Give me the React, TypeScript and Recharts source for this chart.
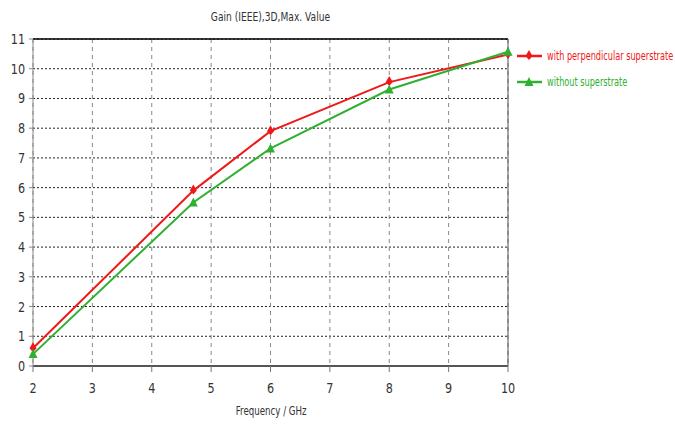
import React from "react";
import {
  LineChart,
  Line,
  XAxis,
  YAxis,
  CartesianGrid,
  ReferenceLine,
} from "recharts";

const frequency = [2, 4.7, 6, 8, 10];
const withSuperstrate = [0.6, 5.9, 7.9, 9.55, 10.48];
const withoutSuperstrate = [0.4, 5.5, 7.32, 9.3, 10.57];
const xTicks = [2, 3, 4, 5, 6, 7, 8, 9, 10];
const yTicks = [0, 1, 2, 3, 4, 5, 6, 7, 8, 9, 10, 11];

const RED = "#f01818";
const GREEN = "#30b030";
const FONT = "'DejaVu Sans', sans-serif";

const data = frequency.map((f, i) => ({
  f,
  red: withSuperstrate[i],
  green: withoutSuperstrate[i],
}));

// squeeze text horizontally to mimic the narrow font of the original
function Narrow({ children, scale, origin = "left" }: any) {
  return (
    <span
      style={{
        display: "inline-block",
        transform: `scaleX(${scale})`,
        transformOrigin: origin,
        whiteSpace: "nowrap",
      }}
    >
      {children}
    </span>
  );
}

function NarrowTick(props: any) {
  const { x, y, payload, textAnchor, dy } = props;
  return (
    <g transform={`translate(${x},${y})`}>
      <text
        transform="scale(0.8,1)"
        textAnchor={textAnchor}
        dy={dy}
        fill="#333"
        fontSize={14}
        fontFamily={FONT}
        dominantBaseline="central"
      >
        {payload.value}
      </text>
    </g>
  );
}

function Diamond(props: any) {
  const { cx, cy } = props;
  if (cx == null || cy == null) return null;
  return <path d={`M${cx},${cy - 6} L${cx + 3.5},${cy} L${cx},${cy + 4} L${cx - 3.5},${cy} Z`} fill={RED} />;
}

function Triangle(props: any) {
  const { cx, cy } = props;
  if (cx == null || cy == null) return null;
  return <path d={`M${cx},${cy - 5} L${cx + 4.5},${cy + 4} L${cx - 4.5},${cy + 4} Z`} fill={GREEN} />;
}

function LegendBox() {
  const items = [
    { label: "with perpendicular superstrate", color: RED, shape: "d" },
    { label: "without superstrate", color: GREEN, shape: "t" },
  ];
  return (
    <div style={{ fontFamily: FONT, fontSize: 12, whiteSpace: "nowrap" }}>
      {items.map((it) => (
        <div key={it.label} style={{ display: "flex", alignItems: "center", height: 26 }}>
          <svg width={28} height={14}>
            <line x1={1} y1={7} x2={26} y2={7} stroke={it.color} strokeWidth={2.5} />
            {it.shape === "d" ? (
              <path d="M13,1 L16.5,7 L13,11 L9.5,7 Z" fill={it.color} />
            ) : (
              <path d="M13,2 L17.5,11 L8.5,11 Z" fill={it.color} />
            )}
          </svg>
          <span style={{ color: it.color, marginLeft: 3 }}>
            <Narrow scale={0.68}>{it.label}</Narrow>
          </span>
        </div>
      ))}
    </div>
  );
}

export default function App() {
  return (
    <div style={{ position: "absolute", left: 0, top: 0, width: 675, height: 424, background: "#fff" }}>
      <div
        style={{
          position: "absolute",
          left: 0,
          width: 540,
          top: 10,
          textAlign: "center",
          fontFamily: FONT,
          fontSize: 12,
          color: "#333",
        }}
      >
        <Narrow scale={0.76} origin="center">Gain (IEEE),3D,Max. Value</Narrow>
      </div>
      <div
        style={{
          position: "absolute",
          left: 0,
          width: 542,
          top: 404,
          textAlign: "center",
          fontFamily: FONT,
          fontSize: 12,
          color: "#333",
        }}
      >
        <Narrow scale={0.72} origin="center">Frequency / GHz</Narrow>
      </div>
      <div style={{ position: "absolute", left: 516, top: 43 }}>
        <LegendBox />
      </div>
      <LineChart
        width={675}
        height={424}
        data={data}
        margin={{ top: 39, right: 167, left: 8, bottom: 28 }}
      >
        <CartesianGrid vertical={false} stroke="#222" strokeDasharray="2 2" />
        <CartesianGrid horizontal={false} stroke="#888" strokeDasharray="4 4" />
        <XAxis
          dataKey="f"
          type="number"
          domain={[2, 10]}
          ticks={xTicks}
          height={30}
          stroke="#555"
          strokeWidth={2}
          tickSize={6}
          tickLine={{ stroke: "#777", strokeWidth: 1 }}
          tick={<NarrowTick dy={12} />}
          tickMargin={4}
        />
        <YAxis
          type="number"
          domain={[0, 11]}
          ticks={yTicks}
          width={25}
          stroke="#888"
          tickSize={4}
          tick={<NarrowTick dy={0} />}
          tickMargin={4}
          interval={0}
        />
        <ReferenceLine y={11} stroke="#000" strokeWidth={1.5} />
        <ReferenceLine x={10} stroke="#555" strokeWidth={1} />
        <Line
          dataKey="red"
          stroke={RED}
          strokeWidth={2}
          dot={<Diamond />}
          isAnimationActive={false}
        />
        <Line
          dataKey="green"
          stroke={GREEN}
          strokeWidth={2}
          dot={<Triangle />}
          isAnimationActive={false}
        />
      </LineChart>
    </div>
  );
}
